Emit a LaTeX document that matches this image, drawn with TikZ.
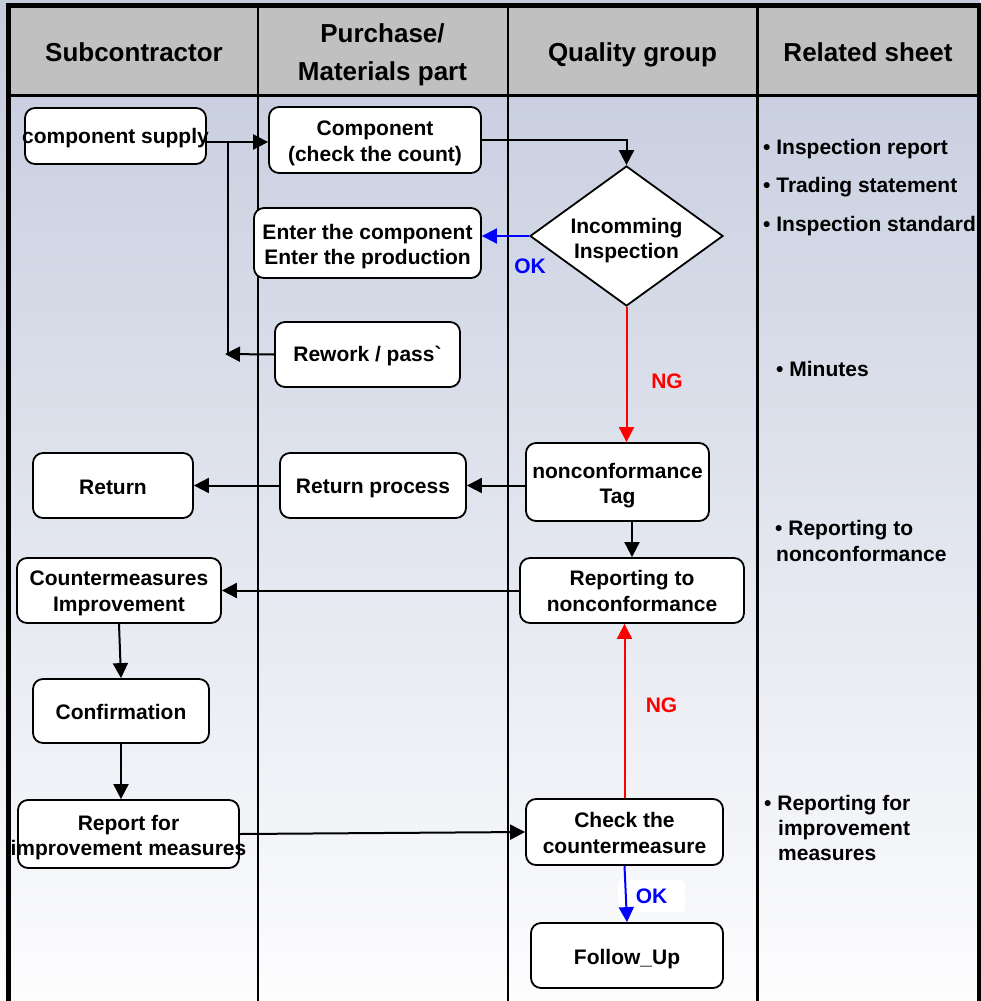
\documentclass[tikz,border=0pt]{standalone}
\usepackage{fontspec}
\setmainfont{Liberation Sans}
\usetikzlibrary{arrows.meta,shapes.geometric}
\definecolor{bgtop}{RGB}{196,203,221}
\definecolor{bgbot}{RGB}{253,253,254}
\definecolor{headgray}{RGB}{192,192,192}
\definecolor{okblue}{RGB}{0,0,255}
\definecolor{ngred}{RGB}{255,0,0}
\newcommand{\bxfont}{\fontsize{21}{25.5}\selectfont\bfseries}
\newcommand{\hdfont}{\fontsize{26}{38}\selectfont\bfseries}
\newcommand{\tallstrut}[1]{\rule{0pt}{#1}}
\begin{document}
\begin{tikzpicture}[x=1pt,y=-1pt,
  box/.style={draw=black, line width=1.8pt, fill=white, rounded corners=10pt,
    inner sep=0pt, align=center, font=\bxfont},
  dia/.style={draw=black, line width=1.8pt, fill=white, diamond, aspect=1.38,
    inner sep=0pt, align=center, font=\bxfont},
  conn/.style={line width=2pt, draw=black},
  arr/.style={conn, -{Triangle[length=15pt,width=15pt]}},
  head/.style={font=\hdfont, inner sep=0pt, anchor=base},
  sheet/.style={font=\bxfont, inner sep=0pt, anchor=base west},
  lbl/.style={font=\bxfont, inner sep=0pt},
  frame/.style={line width=2.5pt, draw=black}]
\useasboundingbox (0,0) rectangle (980,1001);
% background
\fill[top color=bgtop, bottom color=bgbot] (0,0) rectangle (980,1001);
\fill[headgray] (10,8) rectangle (977,95);
% headers
\node[head] (h1) at (134,61.5) {Subcontractor};
\node[head] (h2a) at (382.5,42.7) {Purchase/};
\node[head] (h2b) at (382.5,80.7) {Materials part};
\node[head] (h3) at (632.5,61) {Quality group};
\node[head] (h4) at (868,61) {Related sheet};
% related sheet texts
\node[sheet] (s1) at (763,154) {•\ Inspection report};
\node[sheet] (s2) at (763,192.7) {•\ Trading statement};
\node[sheet] (s3) at (763,231) {•\ Inspection standard};
\node[sheet] (s4) at (776,376.7) {•\ Minutes};
\node[sheet] (s5a) at (775,535.5) {•\ Reporting to};
\node[sheet] (s5b) at (776,561) {nonconformance};
\node[sheet] (s6a) at (764,810) {•\ Reporting for};
\node[sheet] (s6b) at (778,835) {improvement};
\node[sheet] (s6c) at (778,860) {measures};
% frame lines
\draw[frame] (258,5) -- (258,1001);
\draw[frame] (508,5) -- (508,1001);
\draw[frame] (757.5,5) -- (757.5,1001);
\draw[frame] (8,95.5) -- (979,95.5);
\draw[black, line width=5.5pt] (6,5.5) -- (982,5.5);
\draw[black, line width=5pt] (8.5,3) -- (8.5,1001);
\draw[black, line width=5pt] (979.5,3) -- (979.5,1001);
% nodes
\node[box, minimum width=181pt, minimum height=56pt] (sup) at (115.5,136) {\tallstrut{20.3pt}\makebox[0pt]{component supply}};
\node[box, minimum width=212pt, minimum height=66pt] (comp) at (375,140) {\tallstrut{21.7pt}Component\\(check the count)};
\node[box, minimum width=227pt, minimum height=70pt] (ent) at (367.5,243) {\tallstrut{22.5pt}Enter the component\\Enter the production};
\node[box, minimum width=185pt, minimum height=65pt] (rw) at (367.5,354.5) {\tallstrut{18.7pt}Rework / pass\textasciigrave};
\node[dia, minimum width=193pt, minimum height=140pt] (insp) at (626.5,236) {\tallstrut{24.3pt}Incomming\\Inspection};
\node[box, minimum width=183pt, minimum height=78pt] (tag) at (617.5,482) {\tallstrut{22.5pt}nonconformance\\Tag};
\node[box, minimum width=224pt, minimum height=65pt] (rep) at (632,590.5) {\tallstrut{15.9pt}Reporting to\\nonconformance};
\node[box, minimum width=186pt, minimum height=65pt] (rp) at (373,485.5) {\tallstrut{21.3pt}Return process};
\node[box, minimum width=160pt, minimum height=65pt] (ret) at (113,485.5) {\tallstrut{17.3pt}Return};
\node[box, minimum width=204pt, minimum height=65pt] (cm) at (119,590.5) {\tallstrut{20.3pt}Countermeasures\\Improvement};
\node[box, minimum width=176pt, minimum height=64pt] (conf) at (121,711) {\tallstrut{17.9pt}Confirmation};
\node[box, minimum width=221pt, minimum height=68pt] (rfi) at (128.5,834) {\tallstrut{21.9pt}\makebox[0pt]{Report for}\\\makebox[0pt]{improvement measures}};
\node[box, minimum width=197pt, minimum height=66pt] (chk) at (624.5,832) {\tallstrut{16.9pt}Check the\\countermeasure};
\node[box, minimum width=192pt, minimum height=65pt] (fu) at (627,955.5) {\tallstrut{22.7pt}Follow\_Up};
% junction coordinates
\coordinate (jt) at (228,142);
\coordinate (jv) at (228,354);
\coordinate (jb) at (225,354);
% connectors
\draw[arr] (sup.east |- jt) -- (comp.west |- jt);
\draw[arr] (rw.west) -- (jb);
\draw[conn] (jv) -- (jt);
\draw[arr] (comp.east) -| (insp.north);
\draw[arr, draw=okblue, fill=okblue] (insp.west) -- (insp.west -| ent.east);
\node[lbl, text=okblue] (ok1) at (530,266) {OK};
\draw[arr, draw=ngred, fill=ngred] (insp.south) -- (insp.south |- tag.north);
\node[lbl, text=ngred] (ng1) at (667,381) {NG};
\draw[arr] (tag.west |- rp.east) -- (rp.east);
\draw[arr] (rp.west) -- (ret.east);
\draw[arr] (rep.north |- tag.south) -- (rep.north);
\draw[arr] (rep.west) -- (cm.east);
\draw[arr] (cm.south) -- (conf.north);
\draw[arr] (conf.south) -- (conf.south |- rfi.north);
\draw[arr] (rfi.east) -- (chk.west);
\draw[arr, draw=ngred, fill=ngred] (chk.north) -- (chk.north |- rep.south);
\node[lbl, text=ngred] (ng2) at (661.5,705) {NG};
\node[lbl, fill=white, rounded corners=4pt, minimum width=67pt, minimum height=32pt, text=okblue] (ok2) at (651.5,896) {OK};
\draw[arr, draw=okblue, fill=okblue] (chk.south) -- (fu.north);
\end{tikzpicture}
\end{document}
